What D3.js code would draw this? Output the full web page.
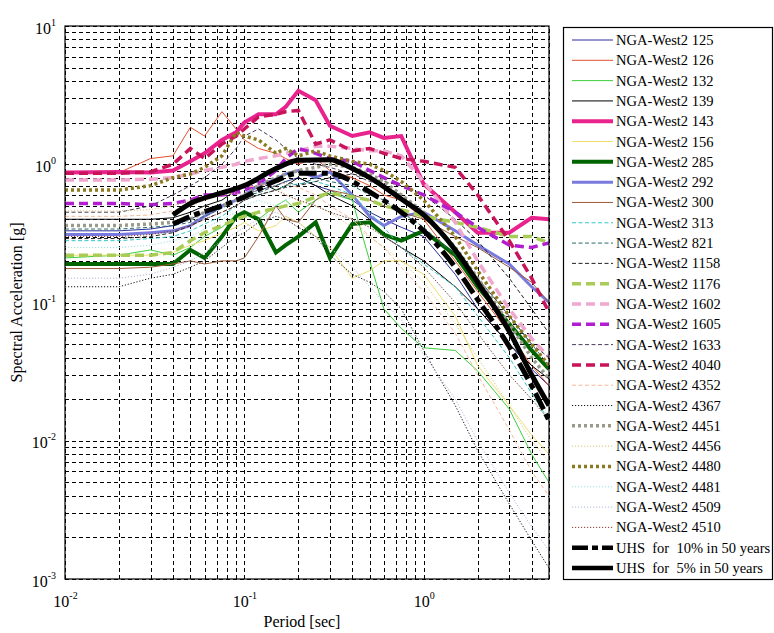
<!DOCTYPE html>
<html>
<head>
<meta charset="utf-8">
<script src="https://cdn.jsdelivr.net/npm/d3@7"></script>
<style>
  body { margin: 0; background: #fff; }
  text { font-family: "Liberation Serif", "Times New Roman", serif; fill: #000; }
</style>
</head>
<body>
<div id="my_chart"></div>
<script>
// periods [sec] the records were read at
let periods = [0.01,0.02,0.03,0.04,0.05,0.06,0.075,0.09,0.1,0.12,0.15,0.17,0.2,0.25,0.3,0.4,0.5,0.6,0.75,1,1.5,2,3,4,5];
let uhsPeriods = [0.04,0.05,0.075,0.1,0.15,0.2,0.3,0.4,0.5,0.75,1,1.5,2,3,4,5];

// spectral acceleration [g], one array per record
let rec125  = [0.33,0.33,0.34,0.36,0.4,0.45,0.5,0.55,0.6,0.65,0.7,0.75,0.8,0.7,0.65,0.55,0.45,0.4,0.35,0.3,0.16,0.09,0.05,0.033,0.025];
let rec126  = [0.87,0.87,1.1,1.15,1.85,1.6,2.4,1.8,1.5,1.3,1.2,1.1,1.0,1.1,0.9,0.8,0.7,0.6,0.55,0.4,0.2,0.12,0.06,0.035,0.025];
let rec132  = [0.21,0.22,0.24,0.22,0.25,0.3,0.35,0.43,0.45,0.4,0.5,0.55,0.45,0.55,0.62,0.55,0.2,0.09,0.065,0.047,0.045,0.032,0.017,0.008,0.005];
let rec139  = [0.40,0.40,0.40,0.41,0.45,0.5,0.55,0.65,0.7,0.75,0.65,0.7,0.8,0.7,0.6,0.5,0.4,0.3,0.25,0.2,0.13,0.09,0.05,0.035,0.028];
let rec143  = [0.87,0.88,0.87,0.9,1.05,1.2,1.5,1.7,2.0,2.3,2.3,2.6,3.4,2.9,1.9,1.6,1.7,1.55,1.6,0.72,0.45,0.32,0.32,0.41,0.4];
let rec156  = [0.22,0.22,0.22,0.23,0.26,0.28,0.32,0.35,0.38,0.33,0.36,0.42,0.38,0.3,0.25,0.15,0.17,0.2,0.2,0.16,0.08,0.035,0.018,0.011,0.008];
let rec285  = [0.19,0.19,0.19,0.19,0.24,0.21,0.3,0.42,0.45,0.4,0.23,0.26,0.3,0.38,0.21,0.37,0.38,0.31,0.28,0.33,0.22,0.13,0.07,0.045,0.033];
let rec292  = [0.31,0.31,0.32,0.33,0.36,0.42,0.5,0.55,0.6,0.7,0.78,0.85,0.9,0.8,0.88,0.6,0.42,0.36,0.42,0.45,0.33,0.26,0.19,0.13,0.1];
let rec300  = [0.176,0.176,0.18,0.19,0.2,0.19,0.2,0.2,0.21,0.3,0.5,0.4,0.38,0.55,0.65,0.6,0.55,0.5,0.45,0.4,0.3,0.25,0.18,0.14,0.1];
let rec313  = [0.28,0.28,0.29,0.3,0.33,0.37,0.42,0.5,0.55,0.6,0.65,0.7,0.72,0.75,0.7,0.6,0.45,0.35,0.25,0.19,0.13,0.08,0.04,0.022,0.014];
let rec821  = [0.34,0.34,0.35,0.36,0.38,0.42,0.48,0.55,0.6,0.62,0.7,0.75,0.7,0.8,0.75,0.7,0.6,0.55,0.45,0.35,0.22,0.15,0.08,0.05,0.035];
let rec1158 = [0.29,0.29,0.3,0.32,0.36,0.4,0.45,0.5,0.55,0.6,0.65,0.68,0.7,0.75,0.8,0.85,0.8,0.75,0.7,0.6,0.4,0.28,0.15,0.09,0.06];
let rec1176 = [0.22,0.22,0.22,0.23,0.28,0.32,0.36,0.4,0.42,0.45,0.48,0.5,0.52,0.58,0.62,0.58,0.55,0.5,0.47,0.42,0.38,0.35,0.3,0.3,0.27];
let rec1602 = [0.77,0.77,0.78,0.8,0.85,0.9,0.95,1.0,1.05,1.1,1.15,1.2,1.25,1.35,1.35,1.3,1.25,1.25,1.15,0.75,0.38,0.2,0.09,0.055,0.04];
let rec1605 = [0.52,0.52,0.51,0.52,0.55,0.6,0.6,0.62,0.65,0.72,0.9,1.1,1.3,1.2,1.1,1.05,0.9,0.8,0.7,0.6,0.45,0.35,0.26,0.25,0.27];
let rec1633 = [0.45,0.45,0.5,0.6,0.7,0.8,1.0,1.3,1.6,1.8,1.5,1.3,1.1,1.0,0.95,0.85,0.75,0.7,0.6,0.45,0.25,0.15,0.08,0.05,0.04];
let rec4040 = [0.86,0.86,0.88,1.0,1.3,1.1,1.4,1.6,1.8,2.2,2.3,2.4,2.45,1.4,1.5,1.25,1.3,1.2,1.1,1.05,0.95,0.6,0.28,0.15,0.085];
let rec4352 = [0.42,0.42,0.43,0.46,0.5,0.55,0.6,0.65,0.68,0.7,0.75,0.72,0.68,0.6,0.5,0.4,0.3,0.25,0.18,0.12,0.06,0.03,0.012,0.006,0.004];
let rec4367 = [0.13,0.13,0.15,0.16,0.18,0.2,0.25,0.3,0.32,0.38,0.42,0.4,0.35,0.3,0.22,0.16,0.14,0.12,0.09,0.045,0.018,0.0085,0.0035,0.0019,0.0012];
let rec4451 = [0.36,0.36,0.37,0.38,0.4,0.45,0.5,0.55,0.6,0.7,0.8,0.85,0.9,0.95,1.0,0.95,0.85,0.75,0.6,0.45,0.25,0.15,0.07,0.04,0.028];
let rec4456 = [0.46,0.46,0.47,0.5,0.55,0.58,0.6,0.62,0.6,0.65,0.7,0.6,0.55,0.5,0.45,0.35,0.3,0.25,0.2,0.14,0.07,0.04,0.018,0.01,0.007];
let rec4480 = [0.65,0.65,0.7,0.8,0.85,0.95,1.15,1.7,1.6,1.5,1.2,1.3,1.15,1.25,1.15,1.05,1.0,0.9,0.75,0.55,0.3,0.17,0.08,0.05,0.035];
let rec4481 = [0.25,0.25,0.26,0.28,0.3,0.34,0.4,0.45,0.5,0.55,0.5,0.55,0.6,0.5,0.45,0.4,0.35,0.3,0.25,0.18,0.1,0.06,0.03,0.02,0.015];
let rec4509 = [0.15,0.15,0.16,0.18,0.2,0.23,0.28,0.32,0.35,0.4,0.45,0.42,0.38,0.3,0.25,0.18,0.13,0.1,0.075,0.042,0.02,0.01,0.0042,0.0024,0.0016];
let rec4510 = [0.3,0.3,0.31,0.33,0.36,0.4,0.45,0.5,0.55,0.6,0.65,0.6,0.55,0.5,0.45,0.4,0.35,0.3,0.25,0.18,0.1,0.06,0.03,0.02,0.014];

// uniform hazard spectra
let uhs10 = [0.37,0.42,0.5,0.58,0.76,0.86,0.86,0.75,0.63,0.45,0.33,0.18,0.105,0.048,0.025,0.014];
let uhs5  = [0.43,0.52,0.62,0.70,0.93,1.07,1.08,0.93,0.8,0.56,0.43,0.24,0.14,0.062,0.03,0.018];

let recordNames = ["NGA-West2 125","NGA-West2 126","NGA-West2 132","NGA-West2 139","NGA-West2 143",
  "NGA-West2 156","NGA-West2 285","NGA-West2 292","NGA-West2 300","NGA-West2 313","NGA-West2 821",
  "NGA-West2 1158","NGA-West2 1176","NGA-West2 1602","NGA-West2 1605","NGA-West2 1633","NGA-West2 4040",
  "NGA-West2 4352","NGA-West2 4367","NGA-West2 4451","NGA-West2 4456","NGA-West2 4480","NGA-West2 4481",
  "NGA-West2 4509","NGA-West2 4510"];
let recordValues = [rec125,rec126,rec132,rec139,rec143,rec156,rec285,rec292,rec300,rec313,rec821,
  rec1158,rec1176,rec1602,rec1605,rec1633,rec4040,rec4352,rec4367,rec4451,rec4456,rec4480,rec4481,
  rec4509,rec4510];
let uhsNames = ["UHS  for  10% in 50 years", "UHS  for  5% in 50 years"];

let xTickValues = [0.01, 0.1, 1];
let yTickValues = [0.001, 0.01, 0.1, 1, 10];

// line looks: colour, width, dash
let lineStyles = [
  ["#2e2e9a", 1, null], ["#e2502e", 1, null], ["#3ccf3c", 1, null], ["#000000", 1, null],
  ["#e8238d", 4, null], ["#f0df70", 1, null], ["#006400", 4, null], ["#7a7ade", 3, null],
  ["#9a5a3a", 1, null], ["#33c8c8", 1, "4,2.5"], ["#2a6a6a", 1, "4,2.5"], ["#222222", 1, "4,2.5"],
  ["#a8cc55", 3.5, "9,5"], ["#f0a8d0", 3.5, "9,5"], ["#b01ed0", 3.5, "9,5"], ["#4a3a5a", 1, "4,2.5"],
  ["#c8145a", 3.5, "9,5"], ["#f5b898", 1, "4,2.5"], ["#111111", 1, "1.2,1.8"], ["#9a9a8a", 3.5, "3,3"],
  ["#d8c878", 1, "1.2,1.8"], ["#8a7a20", 3.5, "3,3"], ["#a0e0e0", 1, "1.2,1.8"], ["#b0b8d8", 1, "1.2,1.8"],
  ["#8a3a2a", 1, "1.2,1.8"]
];
let uhsStyles = [["#000", 5, "18,5,6,5"], ["#000", 5, null]];

function drawChart(){
  let W = 774, H = 633;
  let margin = {top: 26, right: 225, bottom: 54, left: 65},
      width = 549 - margin.left,
      height = 579 - margin.top;

  let svg = d3.select("#my_chart")
    .append("svg")
      .attr("width", W)
      .attr("height", H)
    .append("g")
      .attr("transform", "translate(" + margin.left + "," + margin.top + ")");

  let x = d3.scaleLog().domain([0.01, 5]).range([0, width]);
  let y = d3.scaleLog().domain([0.001, 10]).range([height, 0]);

  // dashed grid at every major and minor tick
  svg.append("g")
    .attr("class", "grid")
    .attr("transform", "translate(0," + height + ")")
    .call(d3.axisBottom(x).ticks(30).tickSize(-height).tickFormat(""))
    .call(g => g.select(".domain").remove());
  svg.append("g")
    .attr("class", "grid")
    .call(d3.axisLeft(y).ticks(40).tickSize(-width).tickFormat(""))
    .call(g => g.select(".domain").remove());
  svg.selectAll(".grid line")
    .attr("stroke", "#000")
    .attr("stroke-width", 1)
    .attr("stroke-dasharray", "4,3")
    .attr("shape-rendering", "crispEdges");

  // tick labels as 10 with superscript exponent
  function powLabel(sel){
    sel.selectAll(".tick text").text(null).each(function(d){
      let t = d3.select(this);
      t.append("tspan").text("10");
      t.append("tspan").attr("dy", -8).attr("font-size", 10).text(Math.round(Math.log10(d)));
    });
  }

  svg.append("g")
    .attr("transform", "translate(0," + height + ")")
    .call(d3.axisBottom(x).tickValues(xTickValues).tickSize(0).tickPadding(0))
    .call(g => g.select(".domain").remove())
    .call(g => g.selectAll(".tick text").attr("font-size", 16).attr("dy", null).attr("y", 28).attr("font-family", null))
    .call(powLabel);

  svg.append("g")
    .call(d3.axisLeft(y).tickValues(yTickValues).tickSize(0).tickPadding(9))
    .call(g => g.select(".domain").remove())
    .call(g => g.selectAll(".tick text").attr("font-size", 16).attr("dy", 7).attr("font-family", null))
    .call(powLabel);

  svg.append("defs").append("clipPath").attr("id", "plotclip")
    .append("rect").attr("width", width).attr("height", height);

  let line = d3.line()
    .x(d => x(d[0]))
    .y(d => y(d[1]));
  let smooth = d3.line()
    .x(d => x(d[0]))
    .y(d => y(d[1]))
    .curve(d3.curveMonotoneX);

  let plot = svg.append("g").attr("clip-path", "url(#plotclip)");

  recordValues.forEach(function(vals, i){
    let st = lineStyles[i];
    plot.append("path")
      .datum(periods.map((p, k) => [p, vals[k]]))
      .attr("fill", "none")
      .attr("stroke", st[0])
      .attr("stroke-width", st[1])
      .attr("stroke-dasharray", st[2])
      .attr("d", line);
  });

  [uhs10, uhs5].forEach(function(vals, i){
    let st = uhsStyles[i];
    plot.append("path")
      .datum(uhsPeriods.map((p, k) => [p, vals[k]]))
      .attr("fill", "none")
      .attr("stroke", st[0])
      .attr("stroke-width", st[1])
      .attr("stroke-dasharray", st[2])
      .attr("d", smooth);
  });

  // frame
  svg.append("rect")
    .attr("width", width).attr("height", height)
    .attr("fill", "none").attr("stroke", "#000").attr("stroke-width", 1.2);

  // axis titles
  svg.append("text")
    .attr("x", width / 2 - 5)
    .attr("y", height + 48)
    .attr("text-anchor", "middle")
    .attr("font-size", 16)
    .text("Period [sec]");
  svg.append("text")
    .attr("transform", "translate(" + (22 - margin.left) + "," + (height / 2) + ") rotate(-90)")
    .attr("text-anchor", "middle")
    .attr("font-size", 16)
    .text("Spectral Acceleration [g]");

  // legend
  let legend = d3.select("#my_chart svg").append("g");
  legend.append("rect")
    .attr("x", 563.5).attr("y", 27.5)
    .attr("width", 209).attr("height", 552)
    .attr("fill", "#fff").attr("stroke", "#000").attr("stroke-width", 1.2);

  let items = recordNames.map((n, i) => [n, lineStyles[i]])
    .concat(uhsNames.map((n, i) => [n, uhsStyles[i]]));
  let rowY = d3.scaleLinear().domain([0, items.length - 1]).range([40, 568]);

  items.forEach(function(it, i){
    let st = it[1];
    let big = i >= recordNames.length;
    legend.append("line")
      .attr("x1", 572).attr("x2", 613)
      .attr("y1", rowY(i)).attr("y2", rowY(i))
      .attr("stroke", st[0])
      .attr("stroke-width", big ? 4.5 : st[1])
      .attr("stroke-dasharray", big && st[2] ? "16,4,6,4" : st[2]);
    legend.append("text")
      .attr("x", 616)
      .attr("y", rowY(i) + 5)
      .attr("font-size", 14.5)
      .style("white-space", "pre")
      .text(it[0]);
  });
}

drawChart();
</script>
</body>
</html>
